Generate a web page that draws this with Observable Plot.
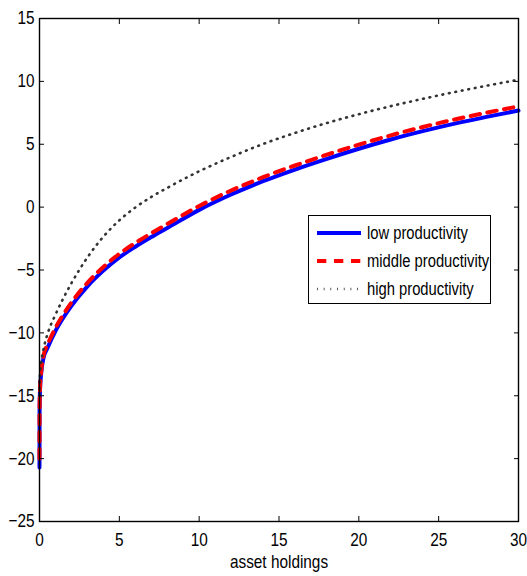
<!DOCTYPE html>
<html>
<head>
<meta charset="utf-8">
<script src="https://cdn.jsdelivr.net/npm/d3@7"></script>
<script src="https://cdn.jsdelivr.net/npm/@observablehq/plot@0.6"></script>
<style>
  html, body { margin: 0; padding: 0; background: #fff; }
  #wrap { position: relative; width: 527px; height: 576px; font-family: "Liberation Sans", Arial, sans-serif; }
  #legend { position: absolute; left: 308px; top: 215px; width: 183px; height: 89px; border: 1px solid #000; background: #fff; box-sizing: border-box; font-size: 18px; }
  .row { position: absolute; left: 0; height: 22px; display: flex; align-items: center; white-space: nowrap; }
  .row svg { margin-left: 8px; margin-right: 6px; flex: none; }
  .row span { display: inline-block; transform: scaleX(0.82); transform-origin: 0 50%; }
</style>
</head>
<body>
<div id="wrap"></div>
<script>
const assets = [0, 0.005, 0.03, 0.1, 0.25, 0.5, 1, 1.5, 2, 3, 4, 5, 6, 7, 8, 10, 12, 14, 16, 18, 20, 22, 24, 26, 28, 30];
const lowProd = [-20.7, -16.3, -14.6, -13.3, -12.0, -11.2, -9.85, -8.78, -7.85, -6.3, -5.05, -4.0, -3.15, -2.38, -1.66, -0.22, 1.0, 2.06, 2.99, 3.84, 4.64, 5.38, 6.04, 6.64, 7.18, 7.68];
const midProd = [-20.0, -16.2, -14.5, -13.15, -11.8, -10.95, -9.6, -8.52, -7.58, -6.02, -4.76, -3.71, -2.85, -2.08, -1.35, 0.09, 1.32, 2.38, 3.31, 4.17, 4.97, 5.71, 6.37, 6.97, 7.51, 8.01];
const highProd = [-15.0, -14.0, -13.3, -12.4, -11.3, -10.1, -8.55, -7.23, -6.05, -4.0, -2.35, -1.05, -0.03, 0.81, 1.53, 2.85, 3.99, 5.02, 5.9, 6.69, 7.39, 8.03, 8.61, 9.15, 9.65, 10.13];
const xTicks = [0, 5, 10, 15, 20, 25, 30];
const yTicks = [-25, -20, -15, -10, -5, 0, 5, 10, 15];
const seriesNames = ["low productivity", "middle productivity", "high productivity"];

const rows = (vals) => assets.map((a, i) => ({a, v: vals[i]}));
const FONT = "'Liberation Sans', Arial, sans-serif";

const chart = Plot.plot({
  width: 527,
  height: 576,
  marginLeft: 39,
  marginRight: 9,
  marginTop: 18,
  marginBottom: 55,
  style: {fontFamily: FONT, fontSize: "18.5px", color: "#000", background: "#fff"},
  x: {domain: [0, 30]},
  y: {domain: [-25, 15]},
  marks: [
    Plot.line(rows(lowProd), {x: "a", y: "v", stroke: "#0000ff", strokeWidth: 4, curve: "monotone-x"}),
    Plot.line(rows(midProd), {x: "a", y: "v", stroke: "#ff0000", strokeWidth: 4, strokeDasharray: "9.5,7.5", curve: "monotone-x"}),
    Plot.line(rows(highProd), {x: "a", y: "v", stroke: "#333", strokeWidth: 2.6, strokeDasharray: "0.8,5.8", curve: "monotone-x"}),
    Plot.frame({stroke: "#000", strokeWidth: 1.4}),
    Plot.axisX(xTicks, {anchor: "bottom", tickSize: 0, tickPadding: 11, label: "asset holdings", labelAnchor: "center", labelArrow: "none", labelOffset: 46, fill: "#000"}),
    Plot.axisX(xTicks, {anchor: "bottom", tickSize: -5, tickFormat: () => "", label: null}),
    Plot.axisX(xTicks, {anchor: "top", tickSize: -5, tickFormat: () => "", label: null}),
    Plot.axisY(yTicks, {anchor: "left", tickSize: 0, tickPadding: 5, label: null, fill: "#000"}),
    Plot.axisY(yTicks, {anchor: "left", tickSize: -5, tickFormat: () => "", label: null}),
    Plot.axisY(yTicks, {anchor: "right", tickSize: -5, tickFormat: () => "", label: null})
  ]
});
const wrap = document.getElementById("wrap");
wrap.appendChild(chart);

// narrow the glyphs like the reference's condensed Helvetica
chart.querySelectorAll("text").forEach(t => {
  const L = t.getComputedTextLength();
  if (L > 0) {
    t.setAttribute("textLength", (L * 0.83).toFixed(2));
    t.setAttribute("lengthAdjust", "spacingAndGlyphs");
  }
});

// legend
const legend = document.createElement("div");
legend.id = "legend";
const styles = [
  {stroke: "#0000ff", w: 4, dash: ""},
  {stroke: "#ff0000", w: 4, dash: "9.3,7.7"},
  {stroke: "#333", w: 2.6, dash: "0.8,5.9"}
];
const tops = [6, 34, 62];
seriesNames.forEach((name, i) => {
  const r = document.createElement("div");
  r.className = "row";
  r.style.top = tops[i] + "px";
  const s = styles[i];
  r.innerHTML = `<svg width="44" height="10"><line x1="0" y1="5" x2="44" y2="5" stroke="${s.stroke}" stroke-width="${s.w}" stroke-dasharray="${s.dash}"/></svg><span>${name}</span>`;
  legend.appendChild(r);
});
wrap.appendChild(legend);
</script>
</body>
</html>
